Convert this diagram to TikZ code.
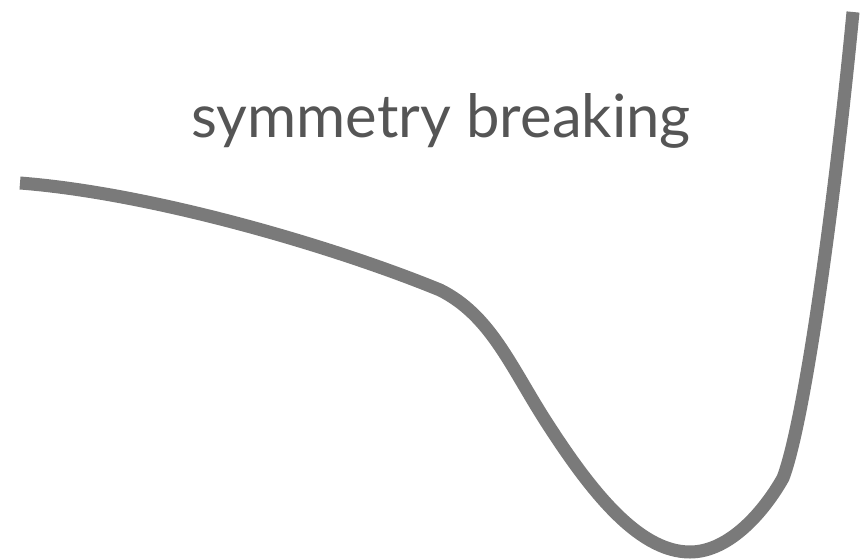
\documentclass[tikz,border=0pt]{standalone}
\usepackage{fontspec}
\setmainfont{Lato}
\usepackage{tikz}
\usetikzlibrary{positioning}

\definecolor{curvegray}{HTML}{7A7A7A}
\definecolor{textgray}{HTML}{555555}

\begin{document}
\begin{tikzpicture}[x=0.03cm, y=-0.03cm]
  \useasboundingbox (0,0) rectangle (864,560);

  % Label
  \node[textgray, font=\fontsize{51}{61}\selectfont, anchor=base] (title) at (441,137) {symmetry breaking};

  % Potential curve
  \coordinate (left) at (20,183);
  \coordinate (shoulder) at (440,290);
  \coordinate (slope) at (545,420);
  \coordinate (well) at (690,552);
  \coordinate (knee) at (783,478);
  \coordinate (wall) at (853,12);
  \draw[curvegray, line width=0.39cm]
    (left) .. controls (150,193) and (330,245) .. (shoulder)
    .. controls (490,315) and (510,365) .. (slope)
    .. controls (588,487) and (637,552) .. (well)
    .. controls (730,552) and (765,510) .. (knee)
    .. controls (805,420) and (835,200) .. (wall);
\end{tikzpicture}
\end{document}
